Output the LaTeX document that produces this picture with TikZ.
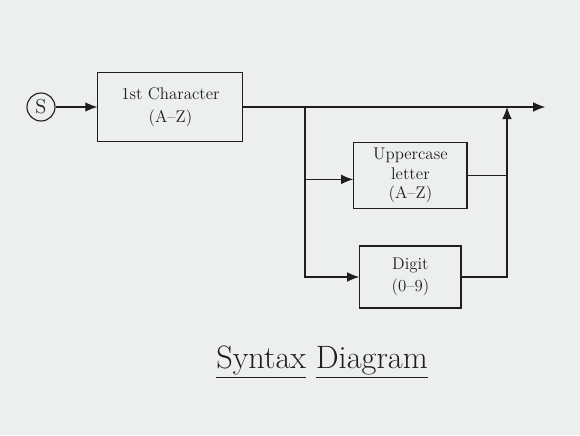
\documentclass[tikz,border=0pt]{standalone}
\usepackage{tikz}
\usetikzlibrary{positioning,arrows.meta}
\definecolor{paper}{RGB}{236,239,237}
\definecolor{ink}{RGB}{30,30,32}

\begin{document}
\begin{tikzpicture}[
    box/.style={draw=ink,rectangle,thick,inner sep=4pt,align=center,font=\large,text=ink},
    arr/.style={-{Latex[length=3mm,width=2.4mm]},thick,draw=ink},
    wire/.style={thick,draw=ink},
  ]
    \fill[paper] (0,0) rectangle (14.5,10.875);
    \useasboundingbox (0,0) rectangle (14.5,10.875);

    \node[draw=ink,thick,circle,minimum size=7mm,inner sep=0pt,font=\Large,text=ink] (S) at (1.025,8.2) {S};
    \node[box,minimum width=3.625cm,minimum height=1.725cm] (first) at (4.26,8.2) {1st Character\\[2pt] (A--Z)};
    \node[box,minimum width=2.83cm,minimum height=1.63cm] (upper) at (10.26,6.49) {Uppercase\\ letter\\ (A--Z)};
    \node[box,minimum width=2.53cm,minimum height=1.55cm] (digit) at (10.26,3.95) {Digit\\[2pt] (0--9)};
    \node[font=\fontsize{23}{28}\selectfont,text=ink] (title) at (8.05,1.83) {\underline{Syntax} \underline{Diagram}};

    \coordinate (split) at (7.625,8.2);
    \coordinate (join)  at (12.675,8.2);
    \coordinate (end)   at (13.63,8.2);

    \draw[arr] (S) -- (first);
    \draw[arr] (first.east) -- (end);
    \draw[arr] (split) |- ([yshift=-1mm]upper.west);
    \draw[arr] (split) |- (digit.west);
    \draw[wire] (upper.east) -- (upper.east -| join);
    \draw[arr] (digit.east) -| (join);
  \end{tikzpicture}
\end{document}
